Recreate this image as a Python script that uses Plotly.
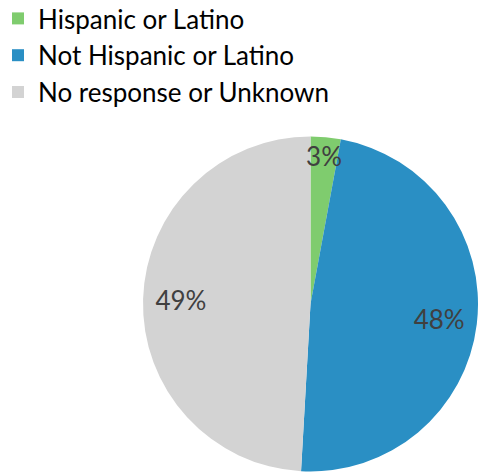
import plotly.graph_objects as go

labels = ["Hispanic or Latino", "Not Hispanic or Latino", "No response or Unknown"]
values = [2.9, 48.0, 49.1]
colors = ["#7FCC6E", "#2A8FC4", "#D3D3D3"]

W, H = 478, 472
cx, cy, R = 310.5, 304, 167.5
dom = dict(x=[(cx-R)/W, min(1.0, (cx+R)/W)], y=[(H-cy-R)/H, (H-cy+R)/H])
Rt = 162
dom_t = dict(x=[(cx-Rt)/W, (cx+Rt)/W], y=[(H-cy-Rt)/H, (H-cy+Rt)/H])

fig = go.Figure()
fig.add_trace(go.Pie(
    labels=labels, values=values, sort=False, direction="clockwise", rotation=0,
    marker=dict(colors=colors, line=dict(width=0)),
    textinfo="none", domain=dom, hoverinfo="skip",
))
# transparent ring carrying the percentage labels
fig.add_trace(go.Pie(
    labels=labels, values=values, sort=False, direction="clockwise", rotation=0,
    hole=0.6,
    marker=dict(colors=["rgba(0,0,0,0)"]*3, line=dict(width=0)),
    texttemplate="%{percent:.0%}", textposition="inside",
    insidetextorientation="horizontal",
    textfont=dict(size=26, color="#404040", family="Lato"),
    domain=dom_t, hoverinfo="skip", showlegend=False,
))

fig.update_layout(
    width=W, height=H,
    margin=dict(l=0, r=0, t=0, b=0, autoexpand=False),
    paper_bgcolor="white",
    font=dict(family="Lato", color="#000000"),
    uniformtext=dict(minsize=26, mode="show"),
    legend=dict(
        x=-2/W, y=1 + 5/H, xanchor="left", yanchor="top",
        font=dict(size=26, family="Lato", color="#000000"),
        bgcolor="rgba(0,0,0,0)",
        traceorder="normal",
    ),
    showlegend=True,
)

fig.write_html("out.html", config={"displayModeBar": False},
               post_script="document.body.style.margin='0';")
